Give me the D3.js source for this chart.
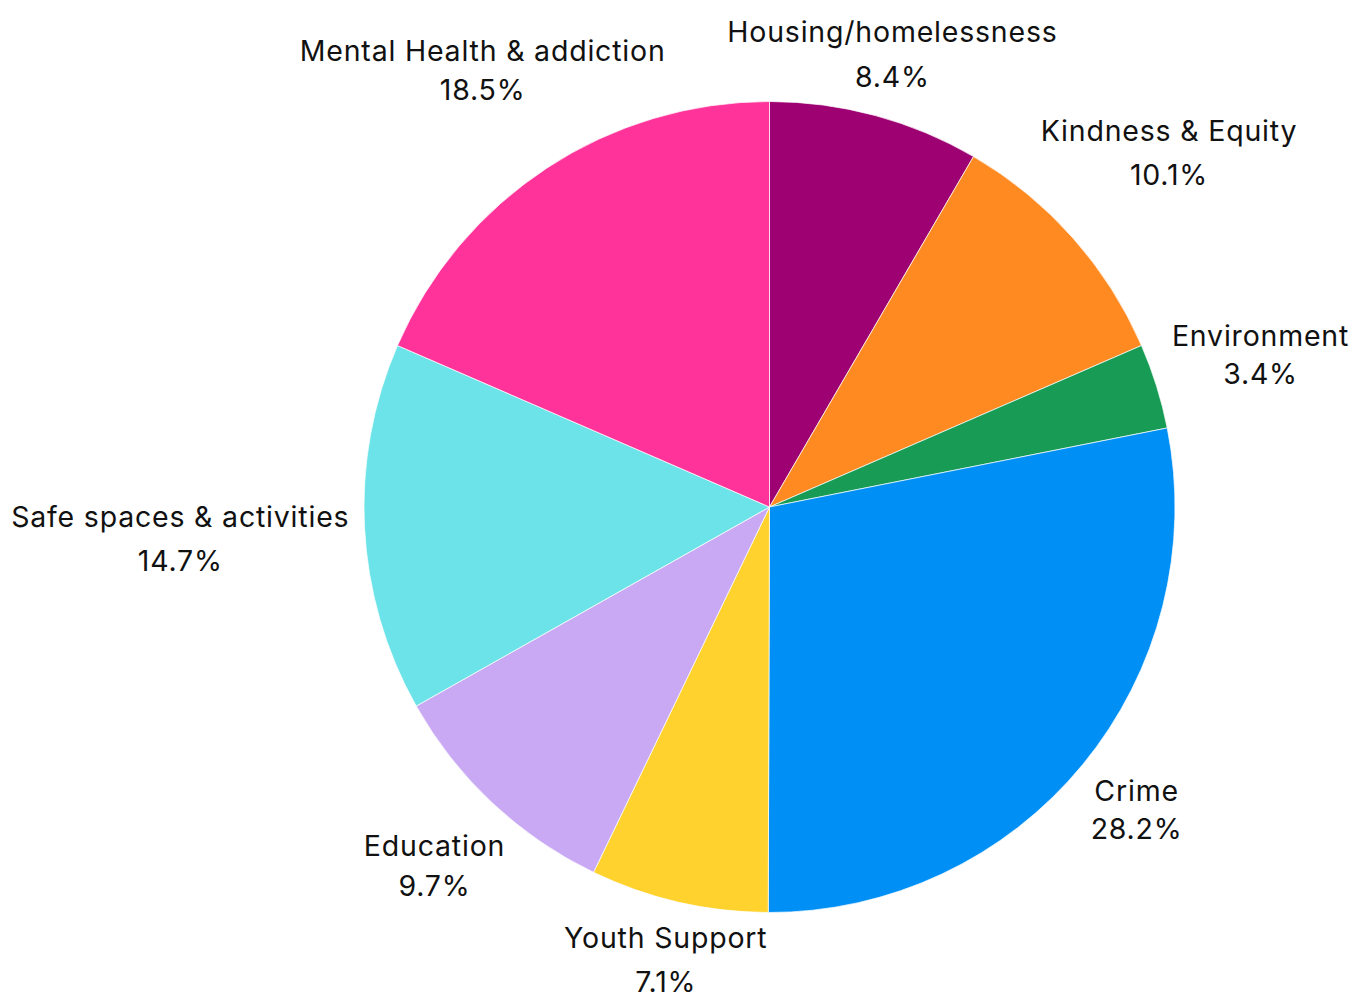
<!DOCTYPE html>
<html>
<head>
<meta charset="utf-8">
<script src="https://cdn.jsdelivr.net/npm/d3@7"></script>
<style>
  html, body { margin: 0; padding: 0; background: #ffffff; }
  svg { display: block; }
</style>
</head>
<body>
<svg id="chart" width="1357" height="998"></svg>
<script>
const categories = ["Housing/homelessness", "Kindness & Equity", "Environment", "Crime",
                    "Youth Support", "Education", "Safe spaces & activities", "Mental Health & addiction"];
const values = [8.4, 10.1, 3.4, 28.2, 7.1, 9.7, 14.7, 18.5];
const colors = ["#9e0172", "#ff8a22", "#189b54", "#008ff5", "#ffd22e", "#c9a9f4", "#6be3e8", "#ff3399"];

const W = 1357, H = 998;
const cx = 769.5, cy = 507, R = 405.5;
const gap = 15;
const fontSize = 28.5;
const letterSp = 0.8;
const fontFamily = "Inter, 'Noto Sans', sans-serif";
const innerGap = 17;

const svg = d3.select("#chart");
const g = svg.append("g").attr("transform", `translate(${cx},${cy})`);

const total = d3.sum(values);
const pie = d3.pie().sort(null).value(d => d.v);
const data = pie(categories.map((c, i) => ({ name: c, v: values[i], color: colors[i] })));
const arc = d3.arc().innerRadius(0).outerRadius(R);

g.selectAll("path.slice").data(data).join("path")
  .attr("class", "slice")
  .attr("d", arc)
  .attr("fill", d => d.data.color)
  .attr("stroke", "#ffffff")
  .attr("stroke-width", 0.7);

const canvas = document.createElement("canvas");
const ctx = canvas.getContext("2d");
ctx.font = `${fontSize}px Inter`;

const fmt = d3.format(".1f");
const labels = g.selectAll("g.label").data(data).join("g").attr("class", "label");

function boxDist(px, py, hw, hh) {
  const dx = Math.max(Math.abs(px) - hw, 0);
  const dy = Math.max(Math.abs(py) - hh, 0);
  return Math.sqrt(dx * dx + dy * dy);
}

labels.each(function(d) {
  const sel = d3.select(this);
  const l1 = d.data.name;
  const l2 = fmt(d.data.v / total * 100) + "%";
  const m1 = ctx.measureText(l1), m2 = ctx.measureText(l2);
  const a1 = m1.actualBoundingBoxAscent, d1 = Math.max(m1.actualBoundingBoxDescent, 0);
  const a2 = m2.actualBoundingBoxAscent, d2 = Math.max(m2.actualBoundingBoxDescent, 0);
  const base2 = d1 + innerGap + a2;

  const text = sel.append("text")
    .attr("text-anchor", "middle")
    .attr("font-family", fontFamily)
    .attr("font-size", fontSize)
    .attr("letter-spacing", letterSp)
    .attr("fill", "#111111");
  const t1 = text.append("tspan").attr("x", letterSp / 2).attr("y", 0).text(l1);
  const t2 = text.append("tspan").attr("x", letterSp / 2).attr("y", base2).text(l2);
  const wMax = Math.max(t1.node().getComputedTextLength(), t2.node().getComputedTextLength());

  const top = -a1, bottom = base2 + d2;
  const hw = wMax / 2, hh = (bottom - top) / 2;
  const bcy = top + hh;
  const a = (d.startAngle + d.endAngle) / 2;
  const ux = Math.sin(a), uy = -Math.cos(a);
  let lo = 0, hi = 2000;
  for (let k = 0; k < 60; k++) {
    const mid = (lo + hi) / 2;
    if (boxDist(mid * ux, mid * uy, hw, hh) < R + gap) lo = mid; else hi = mid;
  }
  const D = hi;
  sel.attr("transform", `translate(${D * ux},${D * uy - bcy})`);
});
</script>
</body>
</html>
